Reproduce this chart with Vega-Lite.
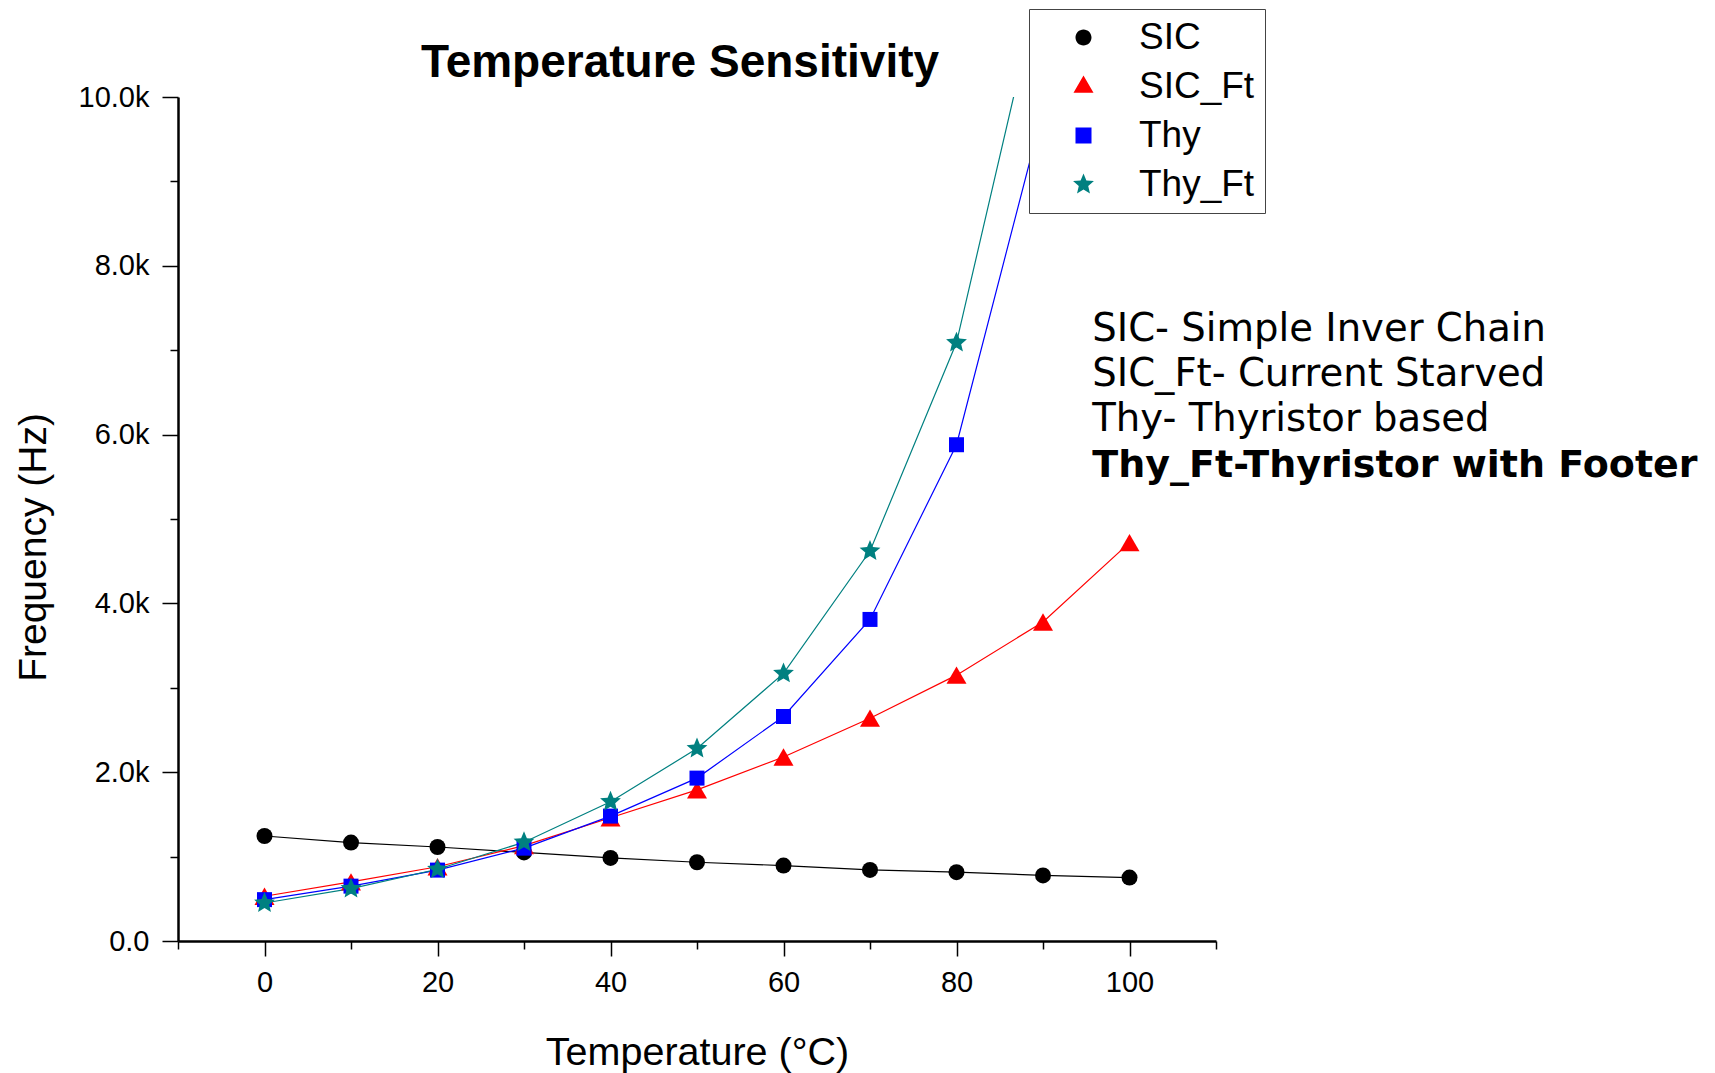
{
  "$schema": "https://vega.github.io/schema/vega-lite/v6.json",
  "width": 1038,
  "height": 844,
  "autosize": {"type": "none"},
  "padding": {"left": 178, "top": 97, "right": 499, "bottom": 132},
  "background": "white",
  "title": {"text": "Temperature Sensitivity", "font": "Liberation Sans", "fontSize": 46, "fontWeight": "bold", "color": "black", "anchor": "middle", "frame": "group", "dx": -17, "dy": 129.5, "offset": 15, "baseline": "alphabetic"},
  "config": {"view": {"stroke": null}, "axis": {"grid": false}},
  "data": {"values": [
    {"series": "SIC", "t": 0, "f": 1244}, {"series": "SIC", "t": 10, "f": 1166}, {"series": "SIC", "t": 20, "f": 1114}, {"series": "SIC", "t": 30, "f": 1049}, {"series": "SIC", "t": 40, "f": 984}, {"series": "SIC", "t": 50, "f": 933}, {"series": "SIC", "t": 60, "f": 894}, {"series": "SIC", "t": 70, "f": 842}, {"series": "SIC", "t": 80, "f": 816}, {"series": "SIC", "t": 90, "f": 777}, {"series": "SIC", "t": 100, "f": 751},
    {"series": "SIC_Ft", "t": 0, "f": 530}, {"series": "SIC_Ft", "t": 10, "f": 700}, {"series": "SIC_Ft", "t": 20, "f": 880}, {"series": "SIC_Ft", "t": 30, "f": 1130}, {"series": "SIC_Ft", "t": 40, "f": 1460}, {"series": "SIC_Ft", "t": 50, "f": 1790}, {"series": "SIC_Ft", "t": 60, "f": 2180}, {"series": "SIC_Ft", "t": 70, "f": 2640}, {"series": "SIC_Ft", "t": 80, "f": 3150}, {"series": "SIC_Ft", "t": 90, "f": 3780}, {"series": "SIC_Ft", "t": 100, "f": 4720},
    {"series": "Thy", "t": 0, "f": 490}, {"series": "Thy", "t": 10, "f": 650}, {"series": "Thy", "t": 20, "f": 840}, {"series": "Thy", "t": 30, "f": 1100}, {"series": "Thy", "t": 40, "f": 1480}, {"series": "Thy", "t": 50, "f": 1930}, {"series": "Thy", "t": 60, "f": 2660}, {"series": "Thy", "t": 70, "f": 3810}, {"series": "Thy", "t": 80, "f": 5880}, {"series": "Thy", "t": 90, "f": 9840},
    {"series": "Thy_Ft", "t": 0, "f": 450}, {"series": "Thy_Ft", "t": 10, "f": 620}, {"series": "Thy_Ft", "t": 20, "f": 850}, {"series": "Thy_Ft", "t": 30, "f": 1170}, {"series": "Thy_Ft", "t": 40, "f": 1650}, {"series": "Thy_Ft", "t": 50, "f": 2280}, {"series": "Thy_Ft", "t": 60, "f": 3170}, {"series": "Thy_Ft", "t": 70, "f": 4620}, {"series": "Thy_Ft", "t": 80, "f": 7090}, {"series": "Thy_Ft", "t": 90, "f": 11500}
  ]},
  "layer": [
    {
      "mark": {"type": "line", "clip": true, "strokeWidth": 1.2},
      "encoding": {
        "x": {"field": "t", "type": "quantitative", "scale": {"domain": [-10, 110], "nice": false, "zero": false},
          "axis": {"orient": "bottom", "values": [0, 20, 40, 60, 80, 100], "title": "Temperature (°C)", "titleFont": "Liberation Sans", "titleFontSize": 39.5, "titleFontWeight": "normal", "titleColor": "black", "titleY": 123, "titleBaseline": "alphabetic", "labelFont": "Liberation Sans", "labelFontSize": 29, "labelColor": "black", "labelPadding": 35, "labelBaseline": "alphabetic", "tickSize": 15, "tickWidth": 1.5, "tickColor": "black", "domainColor": "black", "domainWidth": 2.5, "labelFlush": false, "labelOverlap": false}},
        "y": {"field": "f", "type": "quantitative", "scale": {"domain": [0, 10000], "nice": false},
          "axis": {"orient": "left", "values": [0, 2000, 4000, 6000, 8000, 10000], "labelExpr": "datum.value == 0 ? '0.0' : format(datum.value / 1000, '.1f') + 'k'", "title": "Frequency (Hz)", "titleFont": "Liberation Sans", "titleFontSize": 39, "titleFontWeight": "normal", "titleColor": "black", "titleAngle": 270, "titleX": -133, "titleY": 450, "titleAlign": "center", "titleBaseline": "alphabetic", "labelFont": "Liberation Sans", "labelFontSize": 29, "labelColor": "black", "labelPadding": 13, "labelBaseline": "middle", "tickSize": 16, "tickWidth": 1.5, "tickColor": "black", "domainColor": "black", "domainWidth": 2.5, "labelFlush": false, "labelOverlap": false}},
        "color": {"field": "series", "type": "nominal",
          "scale": {"domain": ["SIC", "SIC_Ft", "Thy", "Thy_Ft"], "range": ["#000000", "#ff0000", "#0000ff", "#008080"]},
          "legend": null}
      }
    },
    {
      "mark": {"type": "point", "filled": true, "clip": true, "opacity": 1, "strokeWidth": 0},
      "encoding": {
        "x": {"field": "t", "type": "quantitative",
          "axis": {"orient": "bottom", "values": [-10, 10, 30, 50, 70, 90, 110], "labels": false, "title": null, "domain": false, "tickSize": 8, "tickWidth": 1.5, "tickColor": "black"}},
        "y": {"field": "f", "type": "quantitative",
          "axis": {"orient": "left", "values": [1000, 3000, 5000, 7000, 9000], "labels": false, "title": null, "domain": false, "tickSize": 8, "tickWidth": 1.5, "tickColor": "black"}},
        "fill": {"field": "series", "type": "nominal", "scale": {"domain": ["SIC", "SIC_Ft", "Thy", "Thy_Ft"], "range": ["#000000", "#ff0000", "#0000ff", "#008080"]}, "legend": null},
        "shape": {"field": "series", "type": "nominal", "scale": {"domain": ["SIC", "SIC_Ft", "Thy", "Thy_Ft"], "range": ["circle", "triangle-up", "square", "M0,-1L0.264,-0.364L0.951,-0.309L0.428,0.139L0.588,0.809L0,0.45L-0.588,0.809L-0.428,0.139L-0.951,-0.309L-0.264,-0.364Z"]}, "legend": null},
        "size": {"field": "series", "type": "nominal", "scale": {"type": "ordinal", "domain": ["SIC", "SIC_Ft", "Thy", "Thy_Ft"], "range": [256, 400, 225, 480]}, "legend": null}
      }
    },
    {
      "mark": {"type": "point", "filled": true, "opacity": 0, "clip": true},
      "encoding": {
        "fill": {"field": "series", "type": "nominal", "scale": {"domain": ["SIC", "SIC_Ft", "Thy", "Thy_Ft"], "range": ["#000000", "#ff0000", "#0000ff", "#008080"]},
          "legend": {"title": null, "orient": "none", "legendX": 851, "legendY": -88, "symbolSize": 7569, "symbolStrokeWidth": 1.3, "symbolOpacity": 1, "clipHeight": 37, "labelFont": "Liberation Sans", "labelFontSize": 37, "labelColor": "black", "labelOffset": 11, "labelLimit": 400, "rowPadding": 11, "padding": 10, "strokeColor": "#444444", "fillColor": "white"}},
        "stroke": {"field": "series", "type": "nominal", "scale": {"domain": ["SIC", "SIC_Ft", "Thy", "Thy_Ft"], "range": ["#000000", "#ff0000", "#0000ff", "#008080"]},
          "legend": {"title": null, "orient": "none", "legendX": 851, "legendY": -88, "symbolSize": 7569, "symbolStrokeWidth": 1.3, "symbolOpacity": 1, "clipHeight": 37, "labelFont": "Liberation Sans", "labelFontSize": 37, "labelColor": "black", "labelOffset": 11, "labelLimit": 400, "rowPadding": 11, "padding": 10, "strokeColor": "#444444", "fillColor": "white"}},
        "shape": {"field": "series", "type": "nominal", "scale": {"domain": ["SIC", "SIC_Ft", "Thy", "Thy_Ft"], "range": [
            "M-1,0H1M0.184,0A0.184,0.184,0,1,1,-0.184,0A0.184,0.184,0,1,1,0.184,0Z",
            "M-1,0H1M0,-0.253L0.23,0.145L-0.23,0.145Z",
            "M-1,0H1M-0.184,-0.184H0.184V0.184H-0.184Z",
            "M-1,0H1M0,-0.253L0.0668,-0.0921L0.2406,-0.0782L0.1083,0.0352L0.1488,0.2047L0,0.1139L-0.1488,0.2047L-0.1083,0.0352L-0.2406,-0.0782L-0.0668,-0.0921Z"
          ]},
          "legend": {"title": null, "orient": "none", "legendX": 851, "legendY": -88, "symbolSize": 7569, "symbolStrokeWidth": 1.3, "symbolOpacity": 1, "clipHeight": 37, "labelFont": "Liberation Sans", "labelFontSize": 37, "labelColor": "black", "labelOffset": 11, "labelLimit": 400, "rowPadding": 11, "padding": 10, "strokeColor": "#444444", "fillColor": "white"}}
      }
    },
    {
      "data": {"values": [{}]},
      "mark": {"type": "text", "text": "SIC- Simple Inver Chain", "font": "DejaVu Sans", "fontSize": 38.6, "align": "left", "baseline": "alphabetic", "color": "black"},
      "encoding": {"x": {"datum": 95.7, "type": "quantitative", "axis": null}, "y": {"datum": 7108, "type": "quantitative", "axis": null}}
    },
    {
      "data": {"values": [{}]},
      "mark": {"type": "text", "text": "SIC_Ft- Current Starved", "font": "DejaVu Sans", "fontSize": 38.6, "align": "left", "baseline": "alphabetic", "color": "black"},
      "encoding": {"x": {"datum": 95.7, "type": "quantitative", "axis": null}, "y": {"datum": 6573, "type": "quantitative", "axis": null}}
    },
    {
      "data": {"values": [{}]},
      "mark": {"type": "text", "text": "Thy- Thyristor based", "font": "DejaVu Sans", "fontSize": 38.6, "align": "left", "baseline": "alphabetic", "color": "black"},
      "encoding": {"x": {"datum": 95.7, "type": "quantitative", "axis": null}, "y": {"datum": 6037, "type": "quantitative", "axis": null}}
    },
    {
      "data": {"values": [{}]},
      "mark": {"type": "text", "text": "Thy_Ft-Thyristor with Footer", "font": "DejaVu Sans", "fontSize": 38, "fontWeight": "bold", "align": "left", "baseline": "alphabetic", "color": "black"},
      "encoding": {"x": {"datum": 95.7, "type": "quantitative", "axis": null}, "y": {"datum": 5502, "type": "quantitative", "axis": null}}
    }
  ],
  "resolve": {"axis": {"x": "independent", "y": "independent"}, "scale": {"shape": "independent", "fill": "independent"}}
}
